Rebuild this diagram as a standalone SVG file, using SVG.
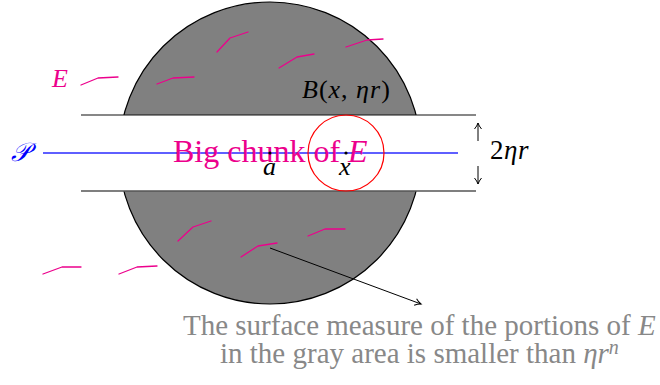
<svg xmlns="http://www.w3.org/2000/svg" width="660" height="385" viewBox="0 0 660 385">
<style>
text{font-family:"Liberation Serif","Times New Roman",serif;}
.it{font-style:italic;}
.mag{fill:#ec008c;}
.e{fill:none;stroke:#ec008c;stroke-width:1.3;stroke-linejoin:round;stroke-linecap:round;}
.thin{fill:none;stroke:#000;stroke-width:1;}
</style>
<defs>
<marker id="arr" markerWidth="10" markerHeight="10" refX="8" refY="5" orient="auto" markerUnits="userSpaceOnUse">
<path d="M2,1.5 Q5,4 8,5 Q5,6 2,8.5" fill="none" stroke="#000" stroke-width="1"/>
</marker>
</defs>
<g id="ball">
<circle cx="270" cy="153" r="151" fill="#808080" stroke="#000" stroke-width="1.2"/>
</g>
<g id="strip">
<rect x="81" y="115" width="395" height="76" fill="#fff"/>
<line x1="81" y1="115" x2="476" y2="115" stroke="#111" stroke-width="1.2"/>
<line x1="81" y1="191" x2="476" y2="191" stroke="#555" stroke-width="1.4"/>
</g>
<g id="E-pieces">
<polyline class="e" points="217,52 230,38 248,32"/>
<polyline class="e" points="279,68 297,57 314,54"/>
<polyline class="e" points="346,47 367,40 383,39"/>
<polyline class="e" points="157,84 173,78 194,77"/>
<polyline class="e" points="81,85 98,78 118,77"/>
<polyline class="e" points="178,241 193,227 211,221"/>
<polyline class="e" points="308,236 325,229 345,229"/>
<polyline class="e" points="241,257 258,246 277,243"/>
<polyline class="e" points="43,274 62,267 81,267"/>
<polyline class="e" points="119,274 137,267 157,266"/>
</g>
<g id="plane">
<line x1="43" y1="153" x2="458" y2="153" stroke="#2a2aff" stroke-width="1.3"/>
<text x="11" y="161" font-size="26" fill="#0000ff" class="it" style="font-family:'DejaVu Serif','Liberation Serif',serif">𝒫</text>
</g>
<g id="chunk-label">
<text x="173" y="162" font-size="32" class="mag">Big chunk of <tspan class="it">E</tspan></text>
</g>
<g id="small-ball">
<circle cx="346" cy="153" r="38" fill="none" stroke="#ff0000" stroke-width="1.2"/>
</g>
<g id="points">
<circle cx="270" cy="153" r="1.6" fill="#000"/>
<circle cx="346" cy="153" r="1.6" fill="#000"/>
<text x="263" y="175" font-size="26" class="it">a</text>
<text x="339" y="175" font-size="26" class="it">x</text>
</g>
<g id="labels">
<text x="52" y="87" font-size="26" class="it mag">E</text>
<text x="302" y="98" font-size="26" letter-spacing="1"><tspan class="it">B</tspan>(<tspan class="it">x</tspan>, <tspan class="it">ηr</tspan>)</text>
<text x="490" y="159" font-size="27" letter-spacing="0.5">2<tspan class="it">ηr</tspan></text>
</g>
<g id="connectors">
<line class="thin" x1="478" y1="141" x2="478" y2="123" marker-end="url(#arr)"/>
<line class="thin" x1="478" y1="166" x2="478" y2="184" marker-end="url(#arr)"/>
<line class="thin" x1="270" y1="248" x2="421" y2="304" marker-end="url(#arr)"/>
</g>
<g id="caption" fill="#888">
<text x="183" y="335" font-size="29">The surface measure of the portions of <tspan class="it">E</tspan></text>
<text x="220" y="363" font-size="29">in the gray area is smaller than <tspan class="it">ηr</tspan><tspan class="it" font-size="20" dy="-9">n</tspan></text>
</g>
</svg>
